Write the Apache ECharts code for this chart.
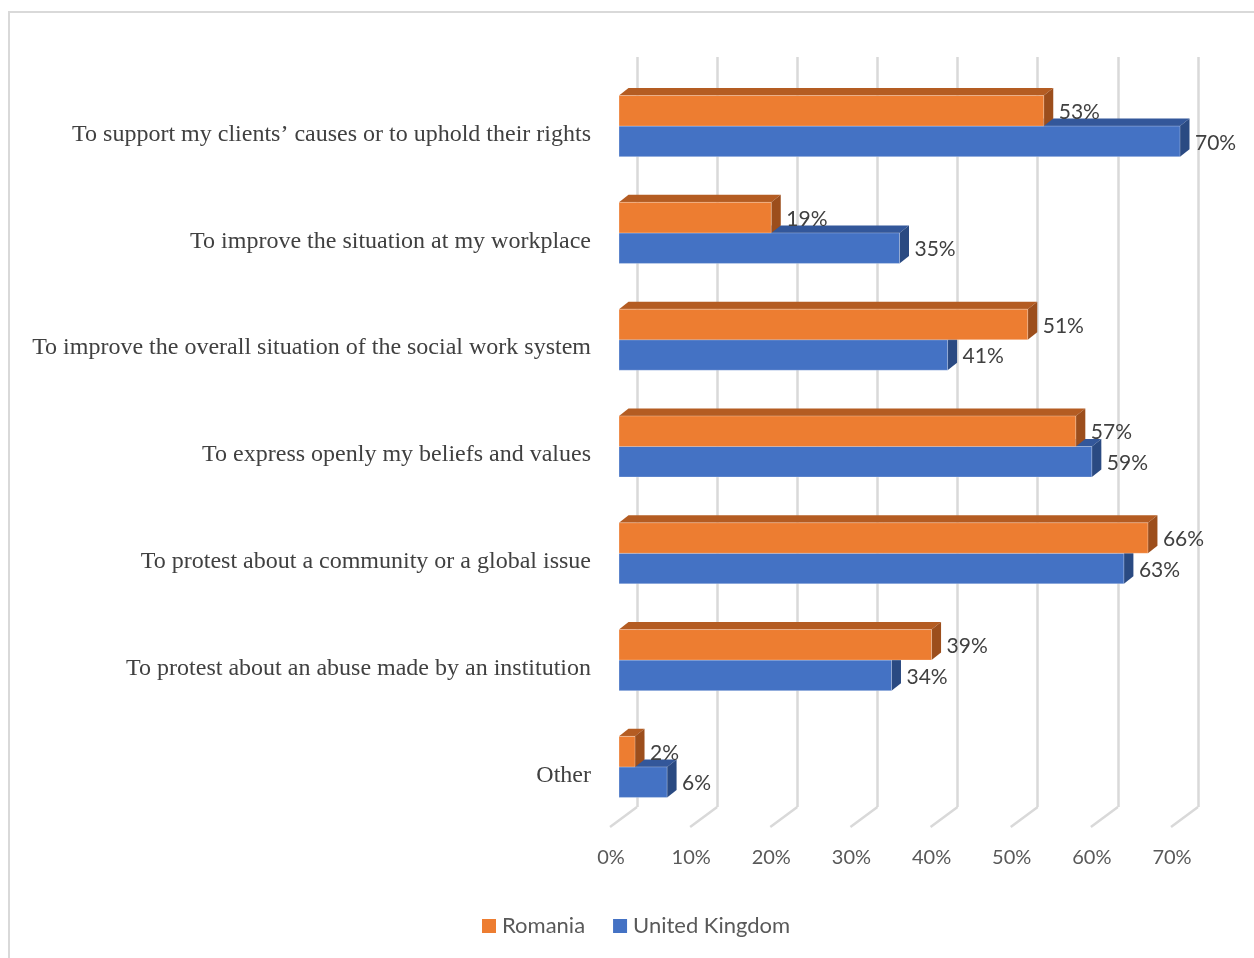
<!DOCTYPE html>
<html>
<head>
<meta charset="utf-8">
<script src="https://cdn.jsdelivr.net/npm/echarts@6/dist/echarts.min.js"></script>
<style>html,body{margin:0;padding:0;background:#fff;}#c{width:1254px;height:958px;}</style>
</head>
<body>
<div id="c"></div>
<script>
const categories = [
  "To support my clients\u2019 causes or to uphold their rights",
  "To improve the situation at my workplace",
  "To improve the overall situation of the social work system",
  "To express openly my beliefs and values",
  "To protest about a community or a global issue",
  "To protest about an abuse made by an institution",
  "Other"
];
const romania = [53, 19, 51, 57, 66, 39, 2];
const unitedKingdom = [70, 35, 41, 59, 63, 34, 6];
const tickValues = [0, 10, 20, 30, 40, 50, 60, 70];

const DX = 9.5, DY = 7.5;          // bar depth offset
const FLOOR_DX = 27, FLOOR_DY = 20; // floor depth offset
const BAR_FRAC = 0.286;

const palette = {
  ro: {front: '#ED7D31', top: '#B45C22', side: '#9C4E1C'},
  uk: {front: '#4472C4', top: '#33579A', side: '#2A4A82'}
};

function makeRender(isUpper, col) {
  return function (params, api) {
    const cat = api.value(0), val = api.value(1);
    const p0 = api.coord([0, cat]);
    const p1 = api.coord([val, cat]);
    const band = api.size([0, 1])[1];
    const h = band * BAR_FRAC;
    const yTop = isUpper ? p0[1] - h : p0[1];
    const yBot = yTop + h;
    const x0 = p0[0], x1 = p1[0];
    return {
      type: 'group',
      children: [
        {type: 'polygon', shape: {points: [[x0, yTop], [x1, yTop], [x1 + DX, yTop - DY], [x0 + DX, yTop - DY]]},
         style: {fill: col.top}},
        {type: 'polygon', shape: {points: [[x1, yTop], [x1 + DX, yTop - DY], [x1 + DX, yBot - DY], [x1, yBot]]},
         style: {fill: col.side}},
        {type: 'rect', shape: {x: x0, y: yTop, width: x1 - x0, height: h},
         style: {fill: col.front, stroke: 'rgba(255,255,255,0.35)', lineWidth: 0.8}},
        {type: 'text', x: x1 + 15, y: yTop + h / 2 + 1.5,
         style: {text: val + '%', fill: '#404040', font: '21px Lato', verticalAlign: 'middle', align: 'left'}}
      ]
    };
  };
}

const chart = echarts.init(document.getElementById('c'), null, {renderer: 'canvas'});
chart.setOption({
  backgroundColor: '#ffffff',
  animation: false,
  graphic: [{type: 'rect', shape: {x: 9, y: 12, width: 1400, height: 1100},
             style: {fill: 'none', stroke: '#d9d9d9', lineWidth: 2}, z: -10}],
  legend: {
    data: ['Romania', 'United Kingdom'],
    left: 477, top: 910,
    icon: 'rect', itemWidth: 14, itemHeight: 14, itemGap: 28,
    textStyle: {fontFamily: 'Lato', fontSize: 22, color: '#595959', padding: [0, 0, 0, 1]}
  },
  grid: [
    {left: 619, width: 561, top: 72.7, height: 747.6},
    {left: 637, width: 561, top: 57, height: 750},
    {left: 611, width: 561, top: 57, height: 770}
  ],
  xAxis: [
    {gridIndex: 0, type: 'value', min: 0, max: 70, interval: 10, axisLine: {show: false}, axisTick: {show: false},
     axisLabel: {show: false}, splitLine: {show: false}},
    {gridIndex: 1, type: 'value', min: 0, max: 70, interval: 10, axisLine: {show: false}, axisTick: {show: false},
     axisLabel: {show: false}, splitLine: {show: true, lineStyle: {color: '#d9d9d9', width: 2.5}}},
    {gridIndex: 2, type: 'value', min: 0, max: 70, interval: 10, axisLine: {show: false}, axisTick: {show: false},
     axisLabel: {show: true, margin: 21, formatter: '{value}%', fontFamily: 'Lato', fontSize: 20, color: '#595959'},
     splitLine: {show: false}}
  ],
  yAxis: [
    {gridIndex: 0, type: 'category', data: categories, inverse: true,
     axisLine: {show: false}, axisTick: {show: false}, splitLine: {show: false},
     axisLabel: {margin: 28, fontFamily: 'Liberation Serif', fontSize: 24, color: '#404040',
                 verticalAlign: 'top', lineHeight: 17}},
    {gridIndex: 1, type: 'value', min: 0, max: 1, show: false},
    {gridIndex: 2, type: 'value', min: 0, max: 1, show: false}
  ],
  series: [
    {
      name: 'Floor', type: 'custom', xAxisIndex: 2, yAxisIndex: 2, z: 1, silent: true,
      data: tickValues.map(v => [v, 0]),
      renderItem: function (params, api) {
        const p = api.coord([api.value(0), 0]);
        return {type: 'line', shape: {x1: p[0] - 1, y1: p[1], x2: p[0] - 1 + FLOOR_DX, y2: p[1] - FLOOR_DY},
                style: {stroke: '#d9d9d9', lineWidth: 2.5}};
      }
    },
    {
      name: 'United Kingdom', type: 'custom', xAxisIndex: 0, yAxisIndex: 0, z: 3,
      itemStyle: {color: palette.uk.front},
      encode: {x: 1, y: 0},
      data: unitedKingdom.map((v, i) => [i, v]),
      renderItem: makeRender(false, palette.uk)
    },
    {
      name: 'Romania', type: 'custom', xAxisIndex: 0, yAxisIndex: 0, z: 4,
      itemStyle: {color: palette.ro.front},
      encode: {x: 1, y: 0},
      data: romania.map((v, i) => [i, v]),
      renderItem: makeRender(true, palette.ro)
    }
  ]
});
</script>
</body>
</html>
